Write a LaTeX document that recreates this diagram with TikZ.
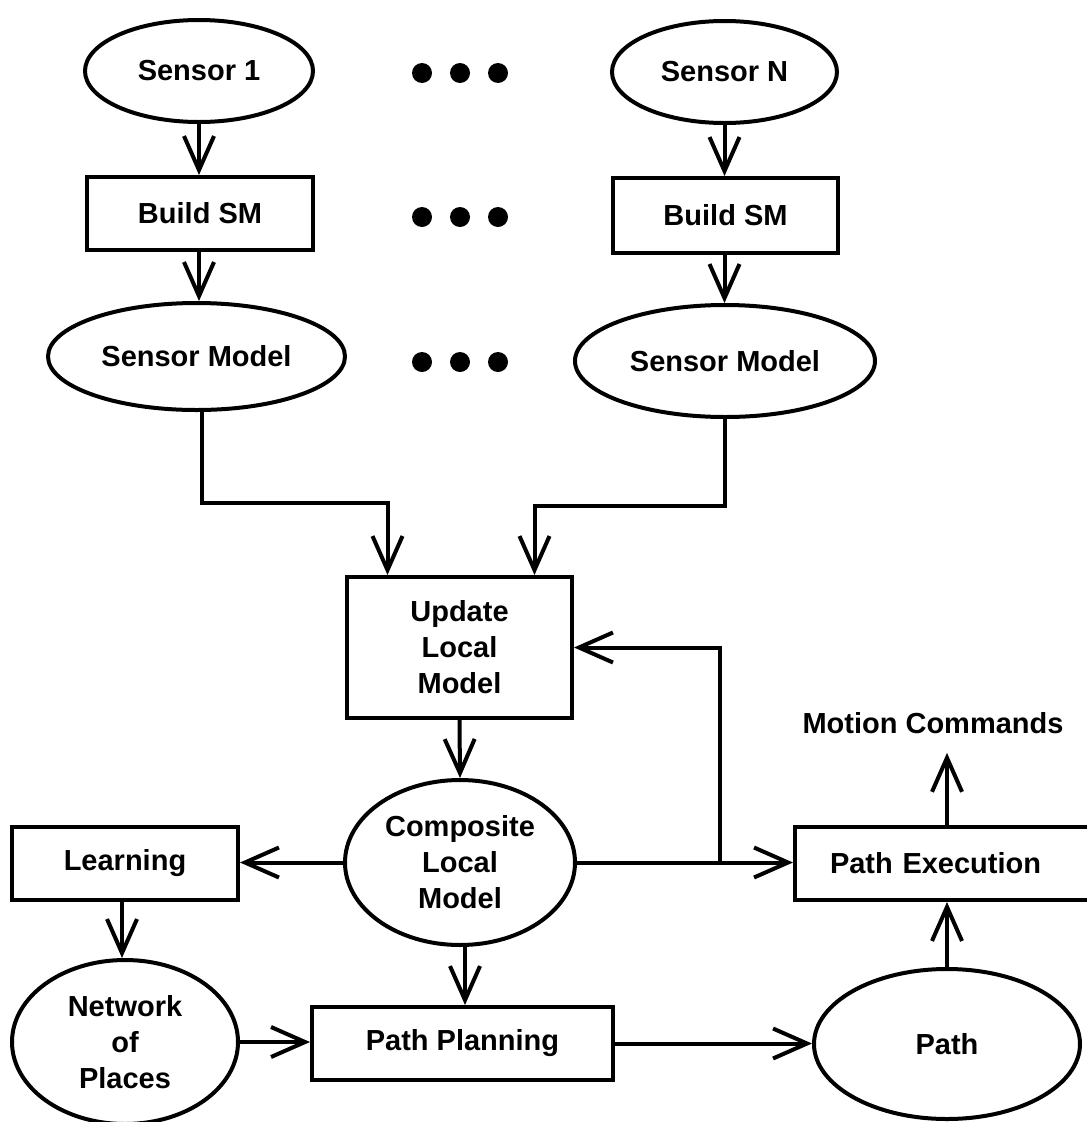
\documentclass[tikz,border=0pt]{standalone}
\usepackage{fontspec}
\setmainfont{Liberation Sans}
\usetikzlibrary{arrows.meta,shapes.geometric}
\begin{document}
\begin{tikzpicture}[x=1pt,y=-1pt,
  every node/.style={font=\bfseries\fontsize{29}{36}\selectfont, align=center},
  base/.style={draw, line width=4pt, inner sep=0pt},
  box/.style={base, rectangle},
  oval/.style={base, ellipse},
  arr/.style={line width=4pt, -{Straight Barb[length=34pt,width=30pt,line width=4pt]}},
  ln/.style={line width=4pt},
  dot/.style={circle, fill=black, inner sep=0pt, minimum size=20pt}]
\useasboundingbox (0,0) rectangle (1087,1122);
\clip (0,0) rectangle (1087,1122);

% top row
\node[oval, minimum width=228pt, minimum height=102pt] (s1) at (199,71) {Sensor 1};
\node[oval, minimum width=225pt, minimum height=102pt] (sn) at (724.5,72) {Sensor N};
\node[dot] (d11) at (422,73) {};
\node[dot] (d12) at (460,73) {};
\node[dot] (d13) at (498,73) {};

% build SM row
\node[box, minimum width=226pt, minimum height=73pt] (b1) at (200,213.5) {Build SM};
\node[box, minimum width=225pt, minimum height=75pt] (bn) at (725.5,215.5) {Build SM};
\node[dot] (d21) at (422,217) {};
\node[dot] (d22) at (460,217) {};
\node[dot] (d23) at (498,217) {};

% sensor model row
\node[oval, minimum width=297pt, minimum height=107pt] (m1) at (196.5,356.5) {Sensor Model};
\node[oval, minimum width=300pt, minimum height=112pt] (mn) at (725,361) {Sensor Model};
\node[dot] (d31) at (422,362) {};
\node[dot] (d32) at (460,362) {};
\node[dot] (d33) at (498,362) {};

% middle
\node[box, minimum width=225pt, minimum height=141pt] (upd) at (459.5,647.5) {Update\\Local\\Model};
\node[oval, minimum width=230pt, minimum height=165pt] (comp) at (460,862.5) {Composite\\Local\\Model};
\node[box, minimum width=226pt, minimum height=73pt] (learn) at (125,863.5) {Learning};
\node[oval, minimum width=226pt, minimum height=164pt] (net) at (125,1042) {Network\\of\\Places};
\node[box, minimum width=301pt, minimum height=73pt] (plan) at (462.5,1043.5) {Path Planning};
\node[oval, minimum width=266pt, minimum height=150pt] (path) at (947,1044) {Path};
\node[box, minimum width=315pt, minimum height=73pt, text width=245pt, align=left, inner xsep=35pt] (pe) at (952.5,863.5) {Path Execution};
\node[inner sep=0pt] (mc) at (933,723) {Motion Commands};

% connectors
\draw[arr] (s1.south) -- (b1.north -| s1.south);
\draw[arr] (sn.south) -- (bn.north -| sn.south);
\draw[arr] (b1.south -| s1.south) -- (m1.north -| s1.south);
\draw[arr] (bn.south -| sn.south) -- (mn.north -| sn.south);
\draw[arr] ([xshift=5pt]m1.south) -- ++(0,91) -| ([xshift=-72pt]upd.north);
\draw[arr] (mn.south) -- ++(0,87) -| ([xshift=75pt]upd.north);
\draw[arr] (upd.south) -- (comp.north);
\draw[arr] (comp.west) -- (learn.east |- comp.west);
\draw[arr] ([xshift=-3pt]learn.south) -- ([xshift=-3pt]net.north);
\draw[arr] (net.east) -- (plan.west |- net.east);
\draw[arr] ([xshift=5pt]comp.south) -- ([xshift=5pt]plan.north -| comp.south);
\draw[arr] (plan.east) -- (path.west |- plan.east);
\draw[arr] (path.north) -- (pe.south -| path.north);
\draw[arr] (pe.north -| path.north) -- ([yshift=-19pt]mc.south -| path.north);
\coordinate (br) at (720,862.5);
\draw[ln] (comp.east) -- (br);
\draw[arr] (br) -- (pe.west |- br);
\draw[arr] (br) |- (upd.east);
\end{tikzpicture}
\end{document}
